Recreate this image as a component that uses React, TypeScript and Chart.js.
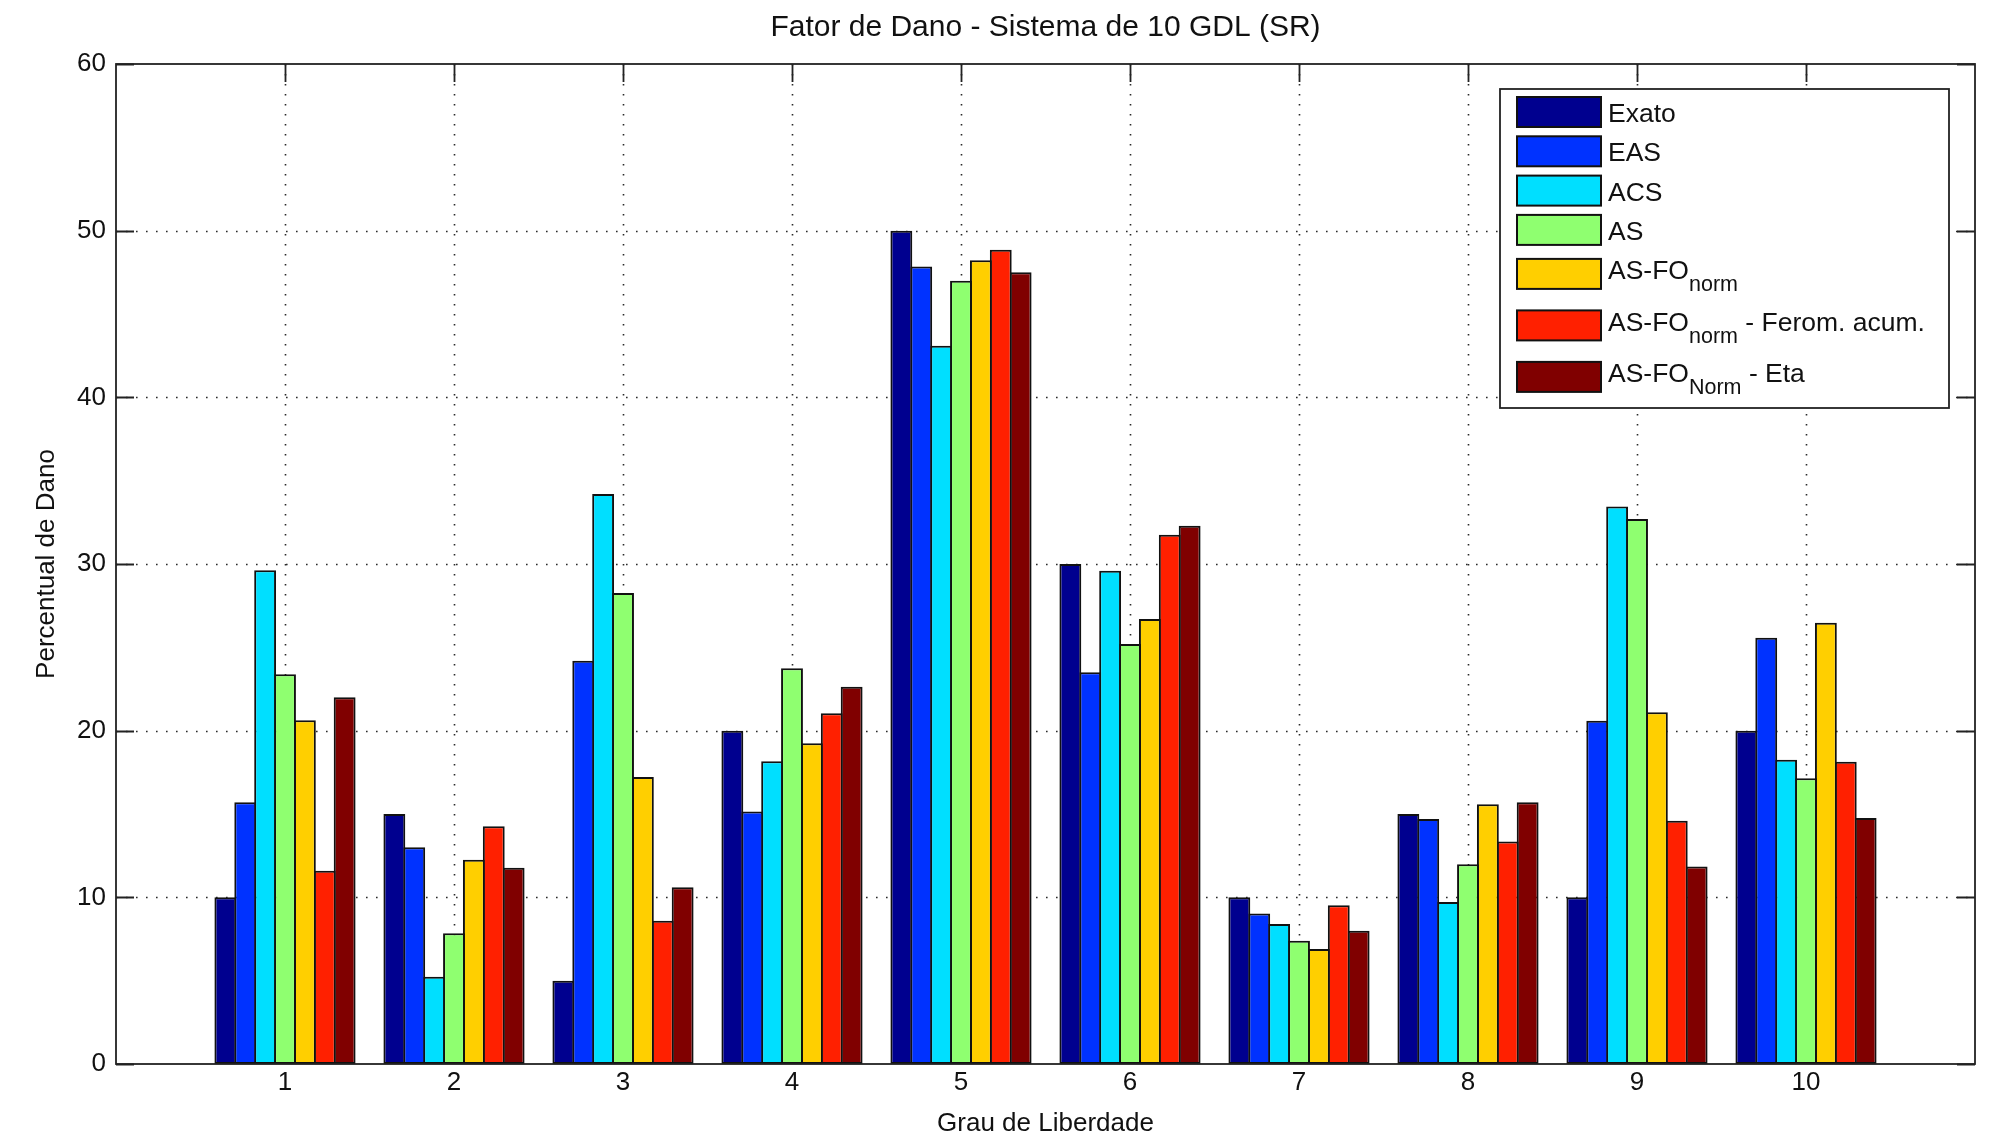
import React, { useEffect, useRef } from 'react';
import { Chart, registerables } from 'chart.js';

Chart.register(...registerables);

// ---------- data ----------
const categories = ['1', '2', '3', '4', '5', '6', '7', '8', '9', '10'];
const seriesLabels = [
  'Exato',
  'EAS',
  'ACS',
  'AS',
  'AS-FO_{norm}',
  'AS-FO_{norm} - Ferom. acum.',
  'AS-FO_{Norm} - Eta',
];
const seriesColors = ['#00008F', '#0032FF', '#00DFFF', '#8FFF70', '#FFCF00', '#FF2000', '#800000'];

const exato = [10, 15, 5, 20, 50, 30, 10, 15, 10, 20];
const eas = [15.7, 13.0, 24.2, 15.15, 47.85, 23.5, 9.03, 14.7, 20.6, 25.57];
const acs = [29.63, 5.23, 34.2, 18.16, 43.1, 29.6, 8.4, 9.72, 33.45, 18.25];
const asValues = [23.38, 7.85, 28.26, 23.75, 47.0, 25.2, 7.39, 11.98, 32.7, 17.15];
const asfoNorm = [20.62, 12.26, 17.22, 19.24, 48.23, 26.7, 6.9, 15.58, 21.1, 26.47];
const asfoFerom = [11.6, 14.26, 8.6, 21.04, 48.85, 31.75, 9.52, 13.35, 14.6, 18.14];
const asfoEta = [22.0, 11.77, 10.6, 22.63, 47.5, 32.3, 8.0, 15.7, 11.85, 14.76];

const seriesValues = [exato, eas, acs, asValues, asfoNorm, asfoFerom, asfoEta];

const yTicks = [0, 10, 20, 30, 40, 50, 60];
const titleText = 'Fator de Dano - Sistema de 10 GDL (SR)';
const xTitle = 'Grau de Liberdade';
const yTitle = 'Percentual de Dano';

// x axis spans 0..11 like MATLAB's xlim, empty slots at both ends
const xLabels = ['', ...categories, ''];

const FONT = "'Liberation Sans', Arial, Helvetica, sans-serif";

function parseTex(label: string) {
  const parts: { text: string; sub: boolean }[] = [];
  const re = /_\{([^}]*)\}/g;
  let last = 0;
  let m: RegExpExecArray | null;
  while ((m = re.exec(label)) !== null) {
    if (m.index > last) parts.push({ text: label.slice(last, m.index), sub: false });
    parts.push({ text: m[1], sub: true });
    last = m.index + m[0].length;
  }
  if (last < label.length) parts.push({ text: label.slice(last), sub: false });
  return parts;
}

const matlabAxes = {
  id: 'matlabAxes',
  beforeDatasetsDraw(chart: any) {
    const { ctx, chartArea, scales } = chart;
    const { left, right, top, bottom } = chartArea;
    const x = scales.x;
    const y = scales.y;
    ctx.save();
    // dotted grid
    ctx.strokeStyle = '#2a2a2a';
    ctx.lineWidth = 1.6;
    ctx.setLineDash([1.6, 8.4]);
    x.ticks.forEach((t: any, i: number) => {
      if (!xLabels[i]) return;
      const px = Math.round(x.getPixelForTick(i)) + 0.5;
      ctx.beginPath();
      ctx.moveTo(px, top);
      ctx.lineTo(px, bottom);
      ctx.stroke();
    });
    y.ticks.forEach((t: any) => {
      if (t.value <= yTicks[0] || t.value >= yTicks[yTicks.length - 1]) return;
      const py = Math.round(y.getPixelForValue(t.value)) + 0.5;
      ctx.beginPath();
      ctx.moveTo(left, py);
      ctx.lineTo(right, py);
      ctx.stroke();
    });
    // inward tick marks
    ctx.setLineDash([]);
    ctx.strokeStyle = '#222';
    ctx.lineWidth = 1.8;
    const tl = 18;
    x.ticks.forEach((t: any, i: number) => {
      if (!xLabels[i]) return;
      const px = Math.round(x.getPixelForTick(i)) + 0.5;
      ctx.beginPath();
      ctx.moveTo(px, bottom);
      ctx.lineTo(px, bottom - tl);
      ctx.moveTo(px, top);
      ctx.lineTo(px, top + tl);
      ctx.stroke();
    });
    y.ticks.forEach((t: any) => {
      const py = Math.round(y.getPixelForValue(t.value)) + 0.5;
      ctx.beginPath();
      ctx.moveTo(left, py);
      ctx.lineTo(left + tl, py);
      ctx.moveTo(right, py);
      ctx.lineTo(right - tl, py);
      ctx.stroke();
    });
    ctx.restore();
  },
  afterDatasetsDraw(chart: any) {
    const { ctx, chartArea } = chart;
    const { left, right, top, bottom } = chartArea;
    ctx.save();
    // axes box
    ctx.strokeStyle = '#222';
    ctx.lineWidth = 1.8;
    ctx.strokeRect(left, top, right - left, bottom - top);

    // legend
    const bx = 1500, by = 89, bw = 449, bh = 319;
    ctx.fillStyle = '#fff';
    ctx.fillRect(bx, by, bw, bh);
    ctx.strokeStyle = '#222';
    ctx.lineWidth = 1.8;
    ctx.strokeRect(bx, by, bw, bh);

    const datasets = chart.data.datasets;
    let cy = 112;
    datasets.forEach((ds: any, i: number) => {
      const parts = parseTex(ds.label);
      const hasSub = parts.some((p) => p.sub);
      if (i > 0) {
        const prevSub = parseTex(datasets[i - 1].label).some((p) => p.sub);
        cy += hasSub ? (prevSub ? 51.5 : 44) : 39.3;
      }
      // swatch
      ctx.fillStyle = ds.backgroundColor;
      ctx.fillRect(1517, cy - 15, 84, 30);
      ctx.strokeStyle = '#111';
      ctx.lineWidth = 2;
      ctx.strokeRect(1517, cy - 15, 84, 30);
      // text
      const baseline = hasSub ? cy + 5.5 : cy + 10;
      let tx = 1608;
      ctx.fillStyle = '#111';
      ctx.textBaseline = 'alphabetic';
      ctx.textAlign = 'left';
      parts.forEach((p) => {
        if (p.sub) {
          ctx.font = `21.5px ${FONT}`;
          ctx.fillText(p.text, tx, baseline + 12);
        } else {
          ctx.font = `26.5px ${FONT}`;
          ctx.fillText(p.text, tx, baseline);
        }
        tx += ctx.measureText(p.text).width;
      });
    });
    ctx.restore();
  },
};

export default function App() {
  const canvasRef = useRef<HTMLCanvasElement | null>(null);

  useEffect(() => {
    document.body.style.margin = '0';
    const canvas = canvasRef.current;
    if (!canvas) return;
    Chart.defaults.font.family = FONT;

    const datasets = seriesLabels.map((label, i) => ({
      label,
      data: [null, ...seriesValues[i], null],
      backgroundColor: seriesColors[i],
      borderColor: '#111',
      borderWidth: 2,
      borderSkipped: false,
      categoryPercentage: 7 / 8.5,
      barPercentage: 1.1,
    }));

    const chart = new Chart(canvas, {
      type: 'bar',
      data: { labels: xLabels, datasets },
      plugins: [matlabAxes],
      options: {
        animation: false,
        responsive: false,
        devicePixelRatio: 1,
        layout: { padding: { top: 0, right: 25, bottom: 0, left: 0 } },
        plugins: {
          legend: { display: false },
          tooltip: { enabled: false },
          title: {
            display: true,
            text: titleText,
            fullSize: false,
            color: '#111',
            font: { size: 30, weight: 'normal', family: FONT, lineHeight: 1.2 },
            padding: { top: 9.5, bottom: 18.5 },
          },
        },
        scales: {
          x: {
            type: 'category',
            offset: false,
            grid: { display: false, drawTicks: false, offset: false },
            border: { display: false },
            ticks: {
              autoSkip: false,
              maxRotation: 0,
              color: '#111',
              padding: 3.5,
              font: { size: 26, family: FONT, lineHeight: 1.2 },
            },
            title: {
              display: true,
              text: xTitle,
              color: '#111',
              font: { size: 26, family: FONT, lineHeight: 1.2 },
              padding: { top: 0, bottom: 5.4 },
            },
            afterFit: (scale: any) => {
              scale.height = 81;
            },
          },
          y: {
            type: 'linear',
            min: yTicks[0],
            max: yTicks[yTicks.length - 1],
            grid: { display: false, drawTicks: false },
            border: { display: false },
            ticks: {
              stepSize: 10,
              color: '#111',
              padding: 10,
              font: { size: 26, family: FONT, lineHeight: 1.2 },
            },
            title: {
              display: true,
              text: yTitle,
              color: '#111',
              font: { size: 26, family: FONT, lineHeight: 1.2 },
              padding: { top: 31.4, bottom: 0 },
            },
            afterFit: (scale: any) => {
              scale.width = 116;
            },
          },
        },
      },
    } as any);

    return () => {
      chart.destroy();
    };
  }, []);

  return (
    <div style={{ width: 2000, height: 1145, background: '#fff' }}>
      <canvas ref={canvasRef} width={2000} height={1145} style={{ display: 'block', width: 2000, height: 1145 }} />
    </div>
  );
}
